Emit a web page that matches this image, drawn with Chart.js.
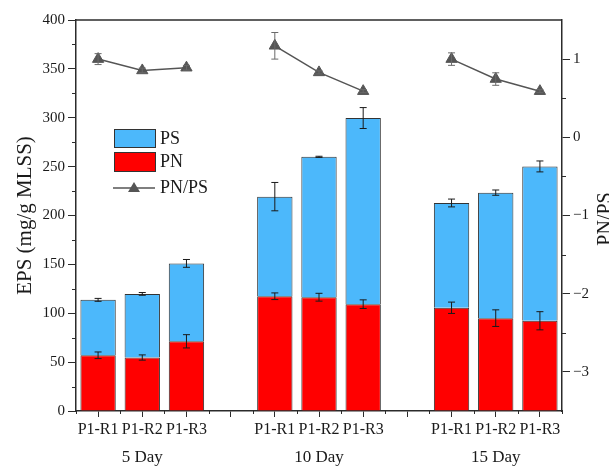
<!DOCTYPE html>
<html>
<head>
<meta charset="utf-8">
<script src="https://cdn.jsdelivr.net/npm/chart.js@4/dist/chart.umd.min.js"></script>
<style>
  html, body { margin: 0; padding: 0; background: #ffffff; overflow: hidden; }
  canvas { display: block; }
</style>
</head>
<body>
<canvas id="chart" width="609" height="470"></canvas>
<script>
// Categories along the x axis (blank slots separate the sampling days)
const categories = ['P1-R1', 'P1-R2', 'P1-R3', '', 'P1-R1', 'P1-R2', 'P1-R3', '', 'P1-R1', 'P1-R2', 'P1-R3'];
const groupLabels = ['5 Day', '10 Day', '15 Day'];
const groupCenters = [1, 5, 9];

// EPS components, mg/g MLSS
const pnValues = [57.0, 54.7, 71.3, null, 117.4, 116.4, 109.3, null, 105.6, 95.0, 92.3];
const psValues = [56.7, 65.1, 79.7, null, 101.9, 143.6, 190.4, null, 107.2, 128.4, 157.9];
const pnErrors = [3.4, 2.7, 6.8, null, 3.4, 4.0, 4.4, null, 5.8, 8.5, 9.3];
const psErrors = [1.5, 1.4, 4.0, null, 14.5, 0.6, 10.7, null, 4.0, 2.7, 5.6];

// PN/PS ratio (right axis)
const ratioValues = [1.00, 0.855, 0.89, null, 1.17, 0.83, 0.59, null, 1.00, 0.745, 0.59];
const ratioErrors = [0.07, 0.03, 0.03, null, 0.17, 0.02, 0.02, null, 0.08, 0.08, 0.02];

const leftRange = [0, 400];
const rightRange = [-3.5, 1.5];
const rightTicks = [-3, -2, -1, 0, 1];

const SERIF = "'Liberation Serif', 'Times New Roman', serif";
const AXIS = '#2b2b2b';
const PS_COLOR = '#4cb8fb';
const PN_COLOR = '#ff0000';
const RATIO_COLOR = '#555555';

Chart.defaults.font.family = SERIF;
Chart.defaults.color = '#1a1a1a';

function drawErrorBar(ctx, x, yLow, yHigh, cap) {
  ctx.beginPath();
  ctx.moveTo(x, yLow); ctx.lineTo(x, yHigh);
  ctx.moveTo(x - cap, yLow); ctx.lineTo(x + cap, yLow);
  ctx.moveTo(x - cap, yHigh); ctx.lineTo(x + cap, yHigh);
  ctx.stroke();
}

const decorations = {
  id: 'decorations',
  afterDatasetsDraw(chart) {
    const ctx = chart.ctx;
    const y = chart.scales.y, y1 = chart.scales.y1;
    ctx.save();
    // error bars on the stacked bars
    ctx.strokeStyle = '#1a1a1a';
    ctx.lineWidth = 1;
    const pnMeta = chart.getDatasetMeta(0), psMeta = chart.getDatasetMeta(1);
    categories.forEach((c, i) => {
      if (pnValues[i] == null) return;
      const top1 = pnValues[i];
      drawErrorBar(ctx, pnMeta.data[i].x, y.getPixelForValue(top1 - pnErrors[i]), y.getPixelForValue(top1 + pnErrors[i]), 3.5);
      const top2 = pnValues[i] + psValues[i];
      drawErrorBar(ctx, psMeta.data[i].x, y.getPixelForValue(top2 - psErrors[i]), y.getPixelForValue(top2 + psErrors[i]), 3.5);
    });
    // error bars on the ratio points
    ctx.strokeStyle = '#6a6a6a';
    const rMeta = chart.getDatasetMeta(2);
    ratioValues.forEach((v, i) => {
      if (v == null) return;
      drawErrorBar(ctx, rMeta.data[i].x, y1.getPixelForValue(v - ratioErrors[i]), y1.getPixelForValue(v + ratioErrors[i]), 3.5);
    });
    ctx.restore();
  },
  afterDraw(chart) {
    const ctx = chart.ctx;
    const area = chart.chartArea;
    const x = chart.scales.x, y = chart.scales.y, y1 = chart.scales.y1;
    ctx.save();
    ctx.strokeStyle = AXIS;
    ctx.lineWidth = 1.5;
    // top frame line
    ctx.beginPath();
    ctx.moveTo(area.left, area.top); ctx.lineTo(area.right, area.top);
    ctx.stroke();
    // minor ticks
    ctx.lineWidth = 1;
    ctx.beginPath();
    for (let v = 25; v < leftRange[1]; v += 50) {
      const py = Math.round(y.getPixelForValue(v)) + 0.5;
      ctx.moveTo(area.left - 4, py); ctx.lineTo(area.left, py);
    }
    for (let v = -2.5; v < rightRange[1]; v += 1) {
      const py = Math.round(y1.getPixelForValue(v)) + 0.5;
      ctx.moveTo(area.right, py); ctx.lineTo(area.right + 4, py);
    }
    for (let i = 0; i <= categories.length; i++) {
      const px = Math.round(x.getPixelForValue(i - 0.5)) + 0.5;
      ctx.moveTo(px, area.bottom); ctx.lineTo(px, area.bottom + 3);
    }
    ctx.stroke();

    // day labels under the sample labels
    ctx.fillStyle = '#1a1a1a';
    ctx.font = '17px ' + SERIF;
    ctx.textAlign = 'center';
    ctx.textBaseline = 'middle';
    groupLabels.forEach((g, k) => {
      ctx.fillText(g, x.getPixelForValue(groupCenters[k]), 458);
    });

    // right axis title
    ctx.save();
    ctx.font = '20px ' + SERIF;
    ctx.translate(606, 219);
    ctx.rotate(-Math.PI / 2);
    ctx.fillText('PN/PS', 0, 0);
    ctx.restore();

    // legend
    const lx = area.left + 38, ly = area.top + 109;
    ctx.lineWidth = 1;
    ctx.strokeStyle = '#333333';
    ctx.fillStyle = PS_COLOR;
    ctx.fillRect(lx, ly, 42, 19);
    ctx.strokeRect(lx + 0.5, ly + 0.5, 41, 18);
    ctx.fillStyle = PN_COLOR;
    ctx.fillRect(lx, ly + 23, 42, 20);
    ctx.strokeRect(lx + 0.5, ly + 23.5, 41, 19);
    ctx.strokeStyle = RATIO_COLOR;
    ctx.lineWidth = 1.5;
    ctx.beginPath();
    ctx.moveTo(lx - 1, ly + 59); ctx.lineTo(lx + 41, ly + 59);
    ctx.stroke();
    ctx.fillStyle = RATIO_COLOR;
    ctx.beginPath();
    ctx.moveTo(lx + 20, ly + 53); ctx.lineTo(lx + 26, ly + 63); ctx.lineTo(lx + 14, ly + 63);
    ctx.closePath(); ctx.fill();
    ctx.fillStyle = '#1a1a1a';
    ctx.font = '18px ' + SERIF;
    ctx.textAlign = 'left';
    ctx.fillText('PS', lx + 46, ly + 10);
    ctx.fillText('PN', lx + 46, ly + 33);
    ctx.fillText('PN/PS', lx + 46, ly + 59);
    ctx.restore();
  }
};

new Chart(document.getElementById('chart'), {
  data: {
    labels: categories,
    datasets: [
      {
        type: 'bar', label: 'PN', data: pnValues, yAxisID: 'y',
        backgroundColor: PN_COLOR, borderColor: '#333333', borderWidth: 1,
        barPercentage: 0.8, categoryPercentage: 1.0, order: 2
      },
      {
        type: 'bar', label: 'PS', data: psValues, yAxisID: 'y',
        backgroundColor: PS_COLOR, borderColor: '#333333', borderWidth: 1,
        barPercentage: 0.8, categoryPercentage: 1.0, order: 2
      },
      {
        type: 'line', label: 'PN/PS', data: ratioValues, yAxisID: 'y1',
        borderColor: RATIO_COLOR, borderWidth: 1.5, spanGaps: false,
        pointStyle: 'triangle', pointRadius: 6.5, pointBackgroundColor: RATIO_COLOR,
        pointBorderColor: RATIO_COLOR, pointBorderWidth: 1, order: 1
      }
    ]
  },
  options: {
    responsive: false,
    animation: false,
    devicePixelRatio: 1,
    layout: { padding: { top: 20, right: 0, bottom: 0, left: 0 } },
    plugins: { legend: { display: false }, tooltip: { enabled: false } },
    scales: {
      x: {
        stacked: true,
        offset: true,
        afterFit: s => { s.height = 59; },
        grid: { display: true, drawOnChartArea: false, drawTicks: true, tickLength: 6, offset: false, color: AXIS, lineWidth: 1 },
        border: { display: true, color: AXIS, width: 1.5 },
        ticks: { font: { size: 16 }, color: '#1a1a1a', maxRotation: 0, autoSkip: false, padding: 3 }
      },
      y: {
        type: 'linear', position: 'left', stacked: true,
        min: leftRange[0], max: leftRange[1],
        afterFit: s => { s.width = 76; },
        grid: { display: true, drawOnChartArea: false, drawTicks: true, tickLength: 8, color: AXIS, lineWidth: 1 },
        border: { display: true, color: AXIS, width: 1.5 },
        ticks: { stepSize: 50, font: { size: 15 }, color: '#1a1a1a', padding: 3 },
        title: { display: true, text: 'EPS (mg/g MLSS)', font: { size: 21 }, color: '#1a1a1a', padding: { top: 13, bottom: 0 } }
      },
      y1: {
        type: 'linear', position: 'right',
        min: rightRange[0], max: rightRange[1],
        afterFit: s => { s.width = 47; },
        afterBuildTicks: s => { s.ticks = rightTicks.map(v => ({ value: v })); },
        grid: { display: true, drawOnChartArea: false, drawTicks: true, tickLength: 8, color: AXIS, lineWidth: 1 },
        border: { display: true, color: AXIS, width: 1.5 },
        ticks: {
          font: { size: 15 }, color: '#1a1a1a', padding: 3,
          callback: v => (v < 0 ? '\u2212' + Math.abs(v) : String(v))
        }
      }
    }
  },
  plugins: [decorations]
});
</script>
</body>
</html>
